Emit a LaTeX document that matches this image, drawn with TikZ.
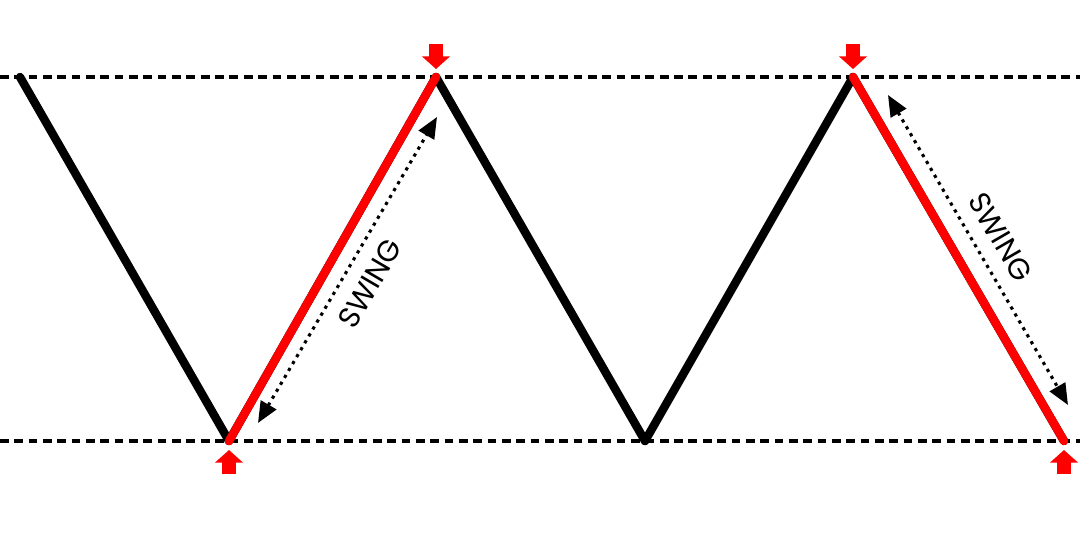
\documentclass[tikz,border=0pt]{standalone}
\usepackage{fontspec}
\newfontfamily\swingfont{Poppins}
\usetikzlibrary{arrows.meta}
\usetikzlibrary{calc}

\begin{document}
\begin{tikzpicture}[x=0.025cm,y=-0.025cm,
level/.style={black,line width=2.2pt,dash pattern=on 6.2pt off 4pt},
leg/.style={black,line width=6pt,line cap=round,line join=round},
swing/.style={red,line width=6pt,line cap=round},
span/.style={line width=2.2pt,dash pattern=on 2.3pt off 3.4pt,
  {Triangle[length=15pt,width=12.5pt]}-{Triangle[length=15pt,width=12.5pt]}},
pointer/.style={red,line width=9.5pt,-{Triangle[length=9pt,width=19.5pt]}},
swingtext/.style={font=\swingfont\fontsize{21}{21}\selectfont,inner sep=0pt,sloped}]
\useasboundingbox (0,0) rectangle (1080,542);
% levels
\coordinate (tl) at (0,77);
\coordinate (tr) at (1080,77);
\coordinate (bl) at (0,441);
\coordinate (br) at (1080,441);
% turning points
\coordinate (t0) at (20,77);
\coordinate (b1) at (229,441);
\coordinate (t1) at (436,77);
\coordinate (b2) at (645,441);
\coordinate (t2) at (853,77);
\coordinate (b3) at (1064,441);
% dotted spans
\coordinate (s1a) at (258,423);
\coordinate (s1b) at (437,117);
\coordinate (s2a) at (888,95);
\coordinate (s2b) at (1068,405);

\draw[level] (tl) -- (tr);
\draw[level] (bl) -- (br);
\draw[leg] (t0) -- (b1) -- (t1) -- (b2) -- (t2) -- (b3);
\draw[swing] (b1) -- (t1);
\draw[swing] (t2) -- (b3);

\draw[span] (s1a) -- node[swingtext,midway,below=10pt]{SWING} (s1b);
\draw[span] (s2a) -- node[swingtext,midway,above=10pt]{SWING} (s2b);

\draw[pointer] ($(t1)+(0,-33)$) -- ($(t1)+(0,-8)$);
\draw[pointer] ($(t2)+(0,-33)$) -- ($(t2)+(0,-8)$);
\draw[pointer] ($(b1)+(0,33)$) -- ($(b1)+(0,9)$);
\draw[pointer] ($(b3)+(0,33)$) -- ($(b3)+(0,9)$);
\end{tikzpicture}
\end{document}
